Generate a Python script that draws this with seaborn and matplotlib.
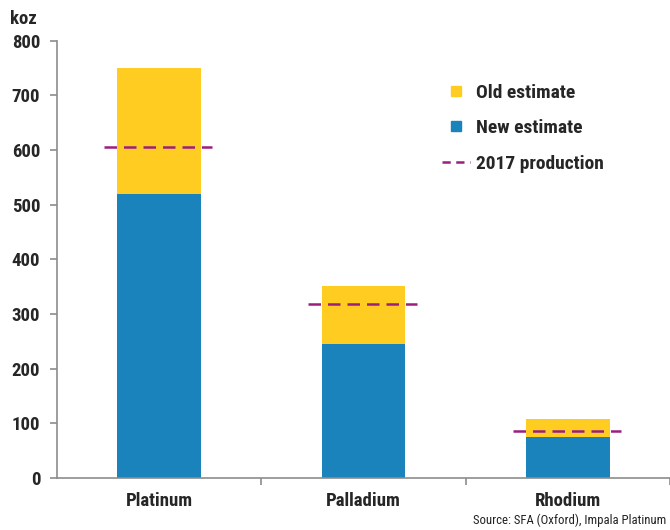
import matplotlib
matplotlib.use("Agg")
import matplotlib.pyplot as plt
from matplotlib.lines import Line2D
from matplotlib.ticker import FixedLocator
import seaborn as sns
import pandas as pd

categories = ["Platinum", "Palladium", "Rhodium"]
old_estimate = [750, 352, 108]
new_estimate = [520, 245, 75]
production_2017 = [606, 318, 86]
y_ticks = [0, 100, 200, 300, 400, 500, 600, 700, 800]

YELLOW = "#FFCD22"
BLUE = "#1B83BC"
PURPLE = "#9C1F80"
GREY = "#8C8C8C"

sns.set_style("white")
plt.rcParams["font.family"] = ["Roboto Condensed", "Archivo Narrow",
                               "IBM Plex Sans Condensed", "DejaVu Sans"]

df = pd.DataFrame({"metal": categories, "old": old_estimate, "new": new_estimate,
                   "prod": production_2017})

fig = plt.figure(figsize=(6.7, 5.3), dpi=100)
ax = fig.add_axes([0.085, 0.098, 0.915, 0.825])

sns.barplot(data=df, x="metal", y="old", color=YELLOW, width=0.41, ax=ax,
            saturation=1, edgecolor="none")
sns.barplot(data=df, x="metal", y="new", color=BLUE, width=0.41, ax=ax,
            saturation=1, edgecolor="none")
for i, v in enumerate(production_2017):
    ax.hlines(v, i - 0.27, i + 0.26, colors=PURPLE, linestyles=(0, (5.0, 2.8)), lw=1.8, zorder=5)

ax.set_xlim(-0.5, 2.5)
ax.set_ylim(0, 800)
ax.set_yticks(y_ticks)
ax.set_xlabel("")
ax.set_ylabel("")
ax.set_xticks(range(len(categories)))
ax.set_xticklabels(categories)
ax.xaxis.set_minor_locator(FixedLocator([0.5, 1.5, 2.5]))
ax.tick_params(axis="x", which="major", length=0, pad=10, labelsize=13.5)
ax.tick_params(axis="x", which="minor", length=5, width=1.2, color=GREY, direction="out", bottom=True)
ax.tick_params(axis="y", length=5, width=1.2, color=GREY, direction="out", left=True, labelsize=13.5, pad=7)
for lab in ax.get_xticklabels() + ax.get_yticklabels():
    lab.set_fontweight("bold")
sns.despine(ax=ax)
for s in ["left", "bottom"]:
    ax.spines[s].set_color(GREY)
    ax.spines[s].set_linewidth(1.2)

handles = [
    Line2D([], [], marker="s", ls="none", color=YELLOW, markersize=7.5),
    Line2D([], [], marker="s", ls="none", color=BLUE, markersize=7.5),
    Line2D([], [], ls=(0, (3.3, 2.2)), color=PURPLE, lw=1.8),
]
leg = ax.legend(handles, ["Old estimate", "New estimate", "2017 production"],
                loc="upper left", bbox_to_anchor=(0.600, 0.942), frameon=False,
                handlelength=1.45, handletextpad=0.3, labelspacing=0.9,
                prop={"weight": "bold", "size": 14})

fig.text(0.015, 0.965, "koz", fontsize=13.5, fontweight="bold", va="center", ha="left")
fig.text(0.995, 0.018, "Source: SFA (Oxford), Impala Platinum", fontsize=9.2,
         ha="right", va="center", color="#222222")

fig.savefig("out.png", dpi=100)
